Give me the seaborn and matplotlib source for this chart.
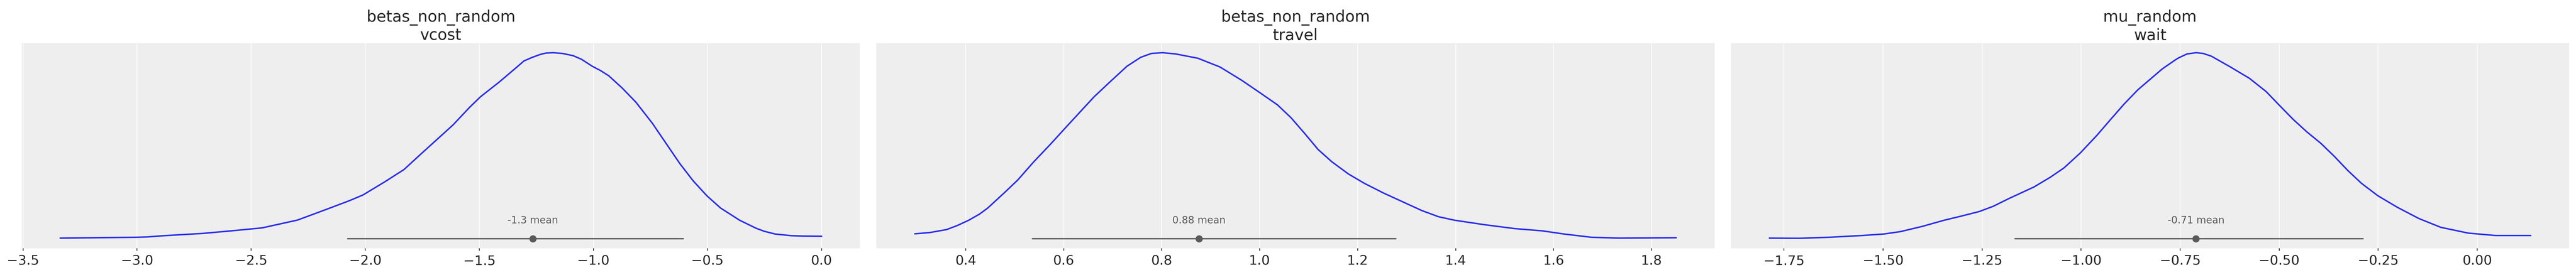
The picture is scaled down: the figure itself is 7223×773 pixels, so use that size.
import matplotlib
matplotlib.use("Agg")
import matplotlib.pyplot as plt
import seaborn as sns

# panel titles
titles = ["betas_non_random\nvcost", "betas_non_random\ntravel", "mu_random\nwait"]

# kde curves (density relative to the peak)
vcost_x = [-3.337, -3.003, -2.955, -2.883, -2.715, -2.596, -2.452, -2.297, -2.165, -2.070, -2.010,
           -1.914, -1.830, -1.759, -1.687, -1.615, -1.543, -1.495, -1.412, -1.340, -1.304,
           -1.268, -1.232, -1.208, -1.177, -1.136, -1.089, -1.053, -1.005, -0.969, -0.933,
           -0.874, -0.814, -0.742, -0.682, -0.622, -0.563, -0.503, -0.443, -0.359, -0.287,
           -0.252, -0.204, -0.132, -0.084, 0.000]
vcost_density = [0.003, 0.0075, 0.0094, 0.016, 0.028, 0.041, 0.058, 0.100, 0.160, 0.204, 0.235,
                 0.306, 0.372, 0.452, 0.532, 0.612, 0.706, 0.763, 0.843, 0.918, 0.956,
                 0.975, 0.991, 0.998, 1.000, 0.996, 0.984, 0.965, 0.927, 0.904, 0.876,
                 0.810, 0.734, 0.621, 0.513, 0.405, 0.311, 0.231, 0.165, 0.099, 0.056,
                 0.040, 0.025, 0.016, 0.014, 0.013]

travel_x = [0.296, 0.327, 0.361, 0.383, 0.406, 0.428, 0.445, 0.478, 0.506, 0.539, 0.573, 0.601,
            0.629, 0.662, 0.696, 0.729, 0.757, 0.779, 0.802, 0.829, 0.874, 0.919,
            0.963, 0.997, 1.036, 1.064, 1.092, 1.119, 1.147, 1.181, 1.214, 1.253,
            1.292, 1.331, 1.365, 1.398, 1.459, 1.521, 1.577, 1.621, 1.677, 1.733, 1.850]
travel_density = [0.026, 0.033, 0.049, 0.071, 0.099, 0.132, 0.165, 0.245, 0.315, 0.414, 0.508, 0.589,
                  0.669, 0.763, 0.847, 0.927, 0.975, 0.996, 1.000, 0.993, 0.970, 0.923,
                  0.852, 0.791, 0.720, 0.650, 0.565, 0.480, 0.414, 0.348, 0.297, 0.245,
                  0.198, 0.151, 0.118, 0.099, 0.075, 0.054, 0.042, 0.025, 0.0075, 0.003, 0.005]

wait_x = [-1.787, -1.711, -1.636, -1.553, -1.498, -1.456, -1.401, -1.346, -1.305, -1.257,
          -1.222, -1.181, -1.119, -1.078, -1.043, -1.002, -0.960, -0.926, -0.891, -0.857,
          -0.823, -0.795, -0.761, -0.754, -0.733, -0.710, -0.692, -0.671, -0.623, -0.575,
          -0.533, -0.499, -0.464, -0.430, -0.395, -0.361, -0.327, -0.292, -0.251, -0.202,
          -0.147, -0.092, -0.023, 0.046, 0.135]
wait_density = [0.003, 0.002, 0.0075, 0.017, 0.025, 0.038, 0.066, 0.099, 0.120, 0.146,
                0.174, 0.217, 0.278, 0.330, 0.381, 0.461, 0.556, 0.640, 0.725, 0.800,
                0.862, 0.913, 0.963, 0.972, 0.993, 1.000, 0.996, 0.981, 0.923, 0.862,
                0.791, 0.716, 0.640, 0.574, 0.513, 0.443, 0.367, 0.297, 0.231, 0.169,
                0.108, 0.061, 0.030, 0.017, 0.017]

curves_x = [vcost_x, travel_x, wait_x]
curves_y = [vcost_density, travel_density, wait_density]

# credible interval and point estimate
hdi_low = [-2.077, 0.536, -1.167]
hdi_high = [-0.606, 1.278, -0.288]
means = [-1.266, 0.876, -0.710]
mean_labels = ["-1.3", "0.88", "-0.71"]

# x ticks per panel
xticks = [
    [-3.5, -3.0, -2.5, -2.0, -1.5, -1.0, -0.5, 0.0],
    [0.4, 0.6, 0.8, 1.0, 1.2, 1.4, 1.6, 1.8],
    [-1.75, -1.50, -1.25, -1.00, -0.75, -0.50, -0.25, 0.00],
]

line_color = "#2a2eec"
gray = "#5a5a5a"

sns.set_theme(style="darkgrid", rc={
    "axes.facecolor": "#eeeeee",
    "axes.edgecolor": "#eeeeee",
    "grid.color": "white",
    "grid.linewidth": 1.4,
    "xtick.bottom": True,
    "xtick.major.size": 6,
    "xtick.major.width": 1.5,
    "xtick.major.pad": 8,
    "xtick.color": ".15",
})

fig, axes = plt.subplots(1, 3, figsize=(72.23, 7.73), dpi=100)
fig.subplots_adjust(left=0.0086, right=0.9972, bottom=0.0983, top=0.8422, wspace=0.0204)

for i, ax in enumerate(axes):
    sns.lineplot(x=curves_x[i], y=curves_y[i], ax=ax, color=line_color, lw=3,
                 solid_capstyle="round", solid_joinstyle="round")
    ax.plot([hdi_low[i], hdi_high[i]], [0, 0], color=gray, lw=2.8, solid_capstyle="round")
    ax.plot([means[i]], [0], "o", color=gray, markersize=13.5)
    peak = max(curves_y[i])
    ax.text(means[i], peak * 0.07, f"{mean_labels[i]} mean", ha="center", va="bottom",
            fontsize=20, color=gray)
    ax.set_xticks(xticks[i])
    ax.set_yticks([])
    ax.set_xlabel("")
    ax.set_ylabel("")
    ax.grid(axis="y", visible=False)
    ax.tick_params(axis="x", labelsize=27)
    ax.set_title(titles[i], fontsize=31.5, pad=6)

fig.savefig("out.png", dpi=100)
